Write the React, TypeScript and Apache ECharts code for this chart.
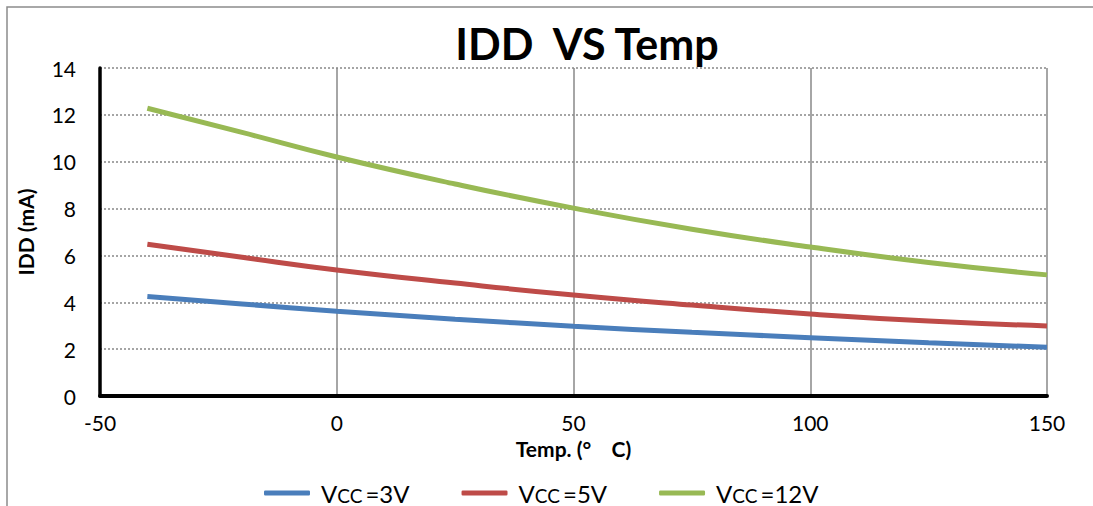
import React, { useEffect, useRef } from "react";
import * as echarts from "echarts";

const temps = [-40, -20, 0, 25, 50, 75, 100, 125, 150];
const vcc3 = [4.25, 3.93, 3.62, 3.28, 2.98, 2.72, 2.49, 2.27, 2.08];
const vcc5 = [6.48, 5.92, 5.38, 4.82, 4.31, 3.88, 3.5, 3.2, 2.99];
const vcc12 = [12.28, 11.25, 10.2, 9.05, 8.02, 7.12, 6.36, 5.7, 5.17];
const seriesNames = ["3V", "5V", "12V"];
const colors = ["#4A7EBB", "#BE4B48", "#98B954"];

export default function App() {
  const ref = useRef<HTMLDivElement>(null);
  useEffect(() => {
    if (!ref.current) return;
    const chart = echarts.init(ref.current, null, { renderer: "svg" });
    const font = "Lato, 'Open Sans', sans-serif";
    const datas = [vcc3, vcc5, vcc12];
    chart.setOption({
      animation: false,
      textStyle: { fontFamily: font },
      title: {
        text: "IDD  VS Temp",
        left: 582,
        textAlign: "center",
        top: 17,
        textStyle: { fontFamily: font, fontSize: 43, fontWeight: "bold", color: "#000" },
      },
      graphic: [
        {
          type: "rect",
          shape: { x: 7, y: 7, width: 1120, height: 560 },
          style: { fill: "none", stroke: "#8c8c8c", lineWidth: 1.5 },
          silent: true,
        },
      ],
      legend: {
        left: 259,
        top: 476,
        itemWidth: 46,
        itemHeight: 5,
        itemGap: 52,
        icon: "roundRect",
        data: seriesNames,
        formatter: (n: string) => `{v|V}{s|CC} {v|=${n}}`,
        textStyle: {
          padding: [0, 0, 0, 6],
          rich: {
            v: { fontSize: 24, fontFamily: font, color: "#000" },
            s: { fontSize: 19, fontFamily: font, color: "#000", padding: [4, 0, 0, 0] },
          },
        },
      },
      grid: { left: 100, right: 46, top: 68, bottom: 110, containLabel: false },
      xAxis: {
        type: "value",
        min: -50,
        max: 150,
        interval: 50,
        name: "Temp. (°    C)",
        nameLocation: "middle",
        nameGap: 40,
        nameTextStyle: { fontFamily: font, fontSize: 21, fontWeight: "bold", color: "#000" },
        axisLine: { show: true, onZero: false, lineStyle: { color: "#000", width: 4 } },
        axisTick: { show: false },
        axisLabel: { fontSize: 21, color: "#000", margin: 16, fontFamily: font },
        splitLine: { show: true, lineStyle: { color: "#888", width: 1.5, type: "solid" } },
      },
      yAxis: {
        type: "value",
        min: 0,
        max: 14,
        interval: 2,
        name: "IDD (mA)",
        nameLocation: "middle",
        nameGap: 64,
        nameTextStyle: { fontFamily: font, fontSize: 21, fontWeight: "bold", color: "#000" },
        axisLine: { show: true, onZero: false, lineStyle: { color: "#000", width: 3.5 } },
        axisTick: { show: false },
        axisLabel: { fontSize: 21, color: "#000", margin: 24, fontFamily: font },
        splitLine: { show: true, lineStyle: { color: "#888", width: 1.5, type: [2, 2] } },
      },
      series: seriesNames.map((n, i) => ({
        name: n,
        type: "line",
        smooth: true,
        showSymbol: false,
        symbol: "none",
        color: colors[i],
        lineStyle: { width: 5, color: colors[i] },
        data: temps.map((t, j) => [t, datas[i][j]]),
      })),
    });
    return () => chart.dispose();
  }, []);
  return (
    <div
      ref={ref}
      style={{ position: "fixed", left: 0, top: 0, width: 1093, height: 506, background: "#fff" }}
    />
  );
}
